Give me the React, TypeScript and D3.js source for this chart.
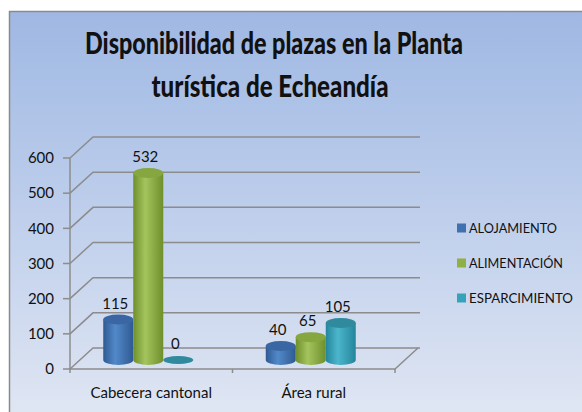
import React, { useRef, useEffect } from 'react';
import * as d3 from 'd3';

const categories = ['Cabecera cantonal', 'Área rural'];
const seriesNames = ['ALOJAMIENTO', 'ALIMENTACIÓN', 'ESPARCIMIENTO'];
const alojamiento = [115, 40];
const alimentacion = [532, 65];
const esparcimiento = [0, 105];
const yTicks = [0, 100, 200, 300, 400, 500, 600];
const titleLines = ['Disponibilidad de plazas en la Planta', 'turística de Echeandía'];

const colors = [
  { dark: '#2f5a92', light: '#5289c9', top: '#3a67a3', key: '#3f70b0' },
  { dark: '#6f8f2c', light: '#a4c45e', top: '#86a640', key: '#8fb045' },
  { dark: '#24859b', light: '#4cb6cc', top: '#2f8a9d', key: '#37a3bb' },
];

const W = 582;
const H = 412;
const FONT = 'Lato, "Open Sans", sans-serif';

const App = () => {
  const ref = useRef<SVGSVGElement>(null);

  useEffect(() => {
    const svg = d3.select(ref.current);
    svg.selectAll('*').remove();

    const defs = svg.append('defs');
    const bg = defs.append('linearGradient').attr('id', 'bg')
      .attr('x1', 0).attr('y1', 0).attr('x2', 0).attr('y2', 1);
    bg.append('stop').attr('offset', 0).attr('stop-color', '#9fb8e3');
    bg.append('stop').attr('offset', 0.5).attr('stop-color', '#bfcfec');
    bg.append('stop').attr('offset', 1).attr('stop-color', '#e1e7f3');

    colors.forEach((c, i) => {
      const g = defs.append('linearGradient').attr('id', 'cyl' + i)
        .attr('x1', 0).attr('y1', 0).attr('x2', 1).attr('y2', 0);
      g.append('stop').attr('offset', 0).attr('stop-color', c.dark);
      g.append('stop').attr('offset', 0.4).attr('stop-color', c.light);
      g.append('stop').attr('offset', 1).attr('stop-color', c.dark);
    });

    // frame
    svg.append('rect').attr('x', 9.5).attr('y', 11.5).attr('width', W).attr('height', H)
      .attr('fill', 'url(#bg)').attr('stroke', '#8a8a8a').attr('stroke-width', 1.5);

    // title
    svg.append('g').selectAll('text').data(titleLines).enter().append('text')
      .attr('x', (d, i) => (i === 0 ? 274 : 270))
      .attr('y', (d, i) => (i === 0 ? 54 : 97))
      .attr('text-anchor', 'middle')
      .attr('font-family', FONT).attr('font-weight', 900).attr('font-size', 30)
      .attr('textLength', (d, i) => (i === 0 ? 378 : 237))
      .attr('lengthAdjust', 'spacingAndGlyphs')
      .attr('fill', '#111')
      .text(d => d);

    // 3D plot geometry
    const x0 = 70, x1 = 395;
    const depthX = 23, depthY = -21;
    const y = d3.scaleLinear().domain([0, 600]).range([369, 158]);
    const x = d3.scaleBand().domain(categories).range([x0, x1]);
    const barW = 30;
    const ry = 5;
    const barBaseShift = -9;
    const groupShift = -3;

    const grid = svg.append('g').attr('stroke', '#8c8c8c').attr('stroke-width', 1.5).attr('fill', 'none');
    yTicks.forEach(t => {
      const yy = y(t);
      grid.append('path').attr('d', `M${x0},${yy}L${x0 + depthX},${yy + depthY}L${x1 + depthX + 2},${yy + depthY}`);
      grid.append('line').attr('x1', x0 - 7).attr('x2', x0).attr('y1', yy).attr('y2', yy);
    });
    grid.append('line').attr('x1', x0).attr('x2', x0).attr('y1', y(0)).attr('y2', y(600));
    // floor
    grid.append('path').attr('d', `M${x0},${y(0)}L${x1},${y(0)}L${x1 + depthX},${y(0) + depthY}`);
    [x0, x0 + x.bandwidth(), x1].forEach(v => {
      grid.append('line').attr('x1', v).attr('x2', v).attr('y1', y(0)).attr('y2', y(0) + 4);
    });

    // y tick labels
    svg.append('g').selectAll('text').data(yTicks).enter().append('text')
      .attr('x', 54).attr('y', d => y(d)).attr('dy', '0.35em')
      .attr('text-anchor', 'end')
      .attr('font-family', FONT).attr('font-size', 15).attr('fill', '#111')
      .text(d => d);

    // category labels
    svg.append('g').selectAll('text').data(categories).enter().append('text')
      .attr('x', d => (x(d) as number) + x.bandwidth() / 2)
      .attr('y', 398)
      .attr('text-anchor', 'middle')
      .attr('font-family', FONT).attr('font-size', 15).attr('fill', '#111')
      .text(d => d);

    // cylinders
    const series = [alojamiento, alimentacion, esparcimiento];
    const bars = svg.append('g');
    categories.forEach((cat, ci) => {
      const center = (x(cat) as number) + x.bandwidth() / 2 + groupShift;
      series.forEach((vals, si) => {
        const v = vals[ci];
        const left = center - (barW * 3) / 2 + si * barW;
        const cx = left + barW / 2;
        const base = y(0) + barBaseShift;
        const top = base - (y(0) - y(v));
        const rx = barW / 2;
        if (v > 0) {
          bars.append('path')
            .attr('d', `M${left},${top}L${left},${base}A${rx},${ry} 0 0 0 ${left + barW},${base}L${left + barW},${top}Z`)
            .attr('fill', `url(#cyl${si})`);
        }
        bars.append('ellipse')
          .attr('cx', cx).attr('cy', top).attr('rx', rx).attr('ry', v > 0 ? ry : 4)
          .attr('fill', colors[si].top);
        bars.append('text')
          .attr('x', cx - 3).attr('y', top - 16).attr('dy', '0.35em')
          .attr('text-anchor', 'middle')
          .attr('font-family', FONT).attr('font-size', 15).attr('fill', '#111')
          .text(v);
      });
    });

    // legend
    const legend = svg.append('g').selectAll('g').data(seriesNames).enter().append('g')
      .attr('transform', (d, i) => `translate(457,${228 + i * 35})`);
    legend.append('rect').attr('x', 0).attr('y', -4.5).attr('width', 9).attr('height', 9)
      .attr('fill', (d, i) => colors[i].key);
    legend.append('text')
      .attr('x', 12).attr('y', 0).attr('dy', '0.35em')
      .attr('font-family', FONT).attr('font-size', 14).attr('fill', '#111')
      .attr('textLength', (d, i) => [88, 94, 104][i])
      .attr('lengthAdjust', 'spacingAndGlyphs')
      .text(d => d);
  }, []);

  return (
    <svg ref={ref} width={W} height={H} style={{ position: 'absolute', left: 0, top: 0, background: '#fff' }} />
  );
};

export default App;
